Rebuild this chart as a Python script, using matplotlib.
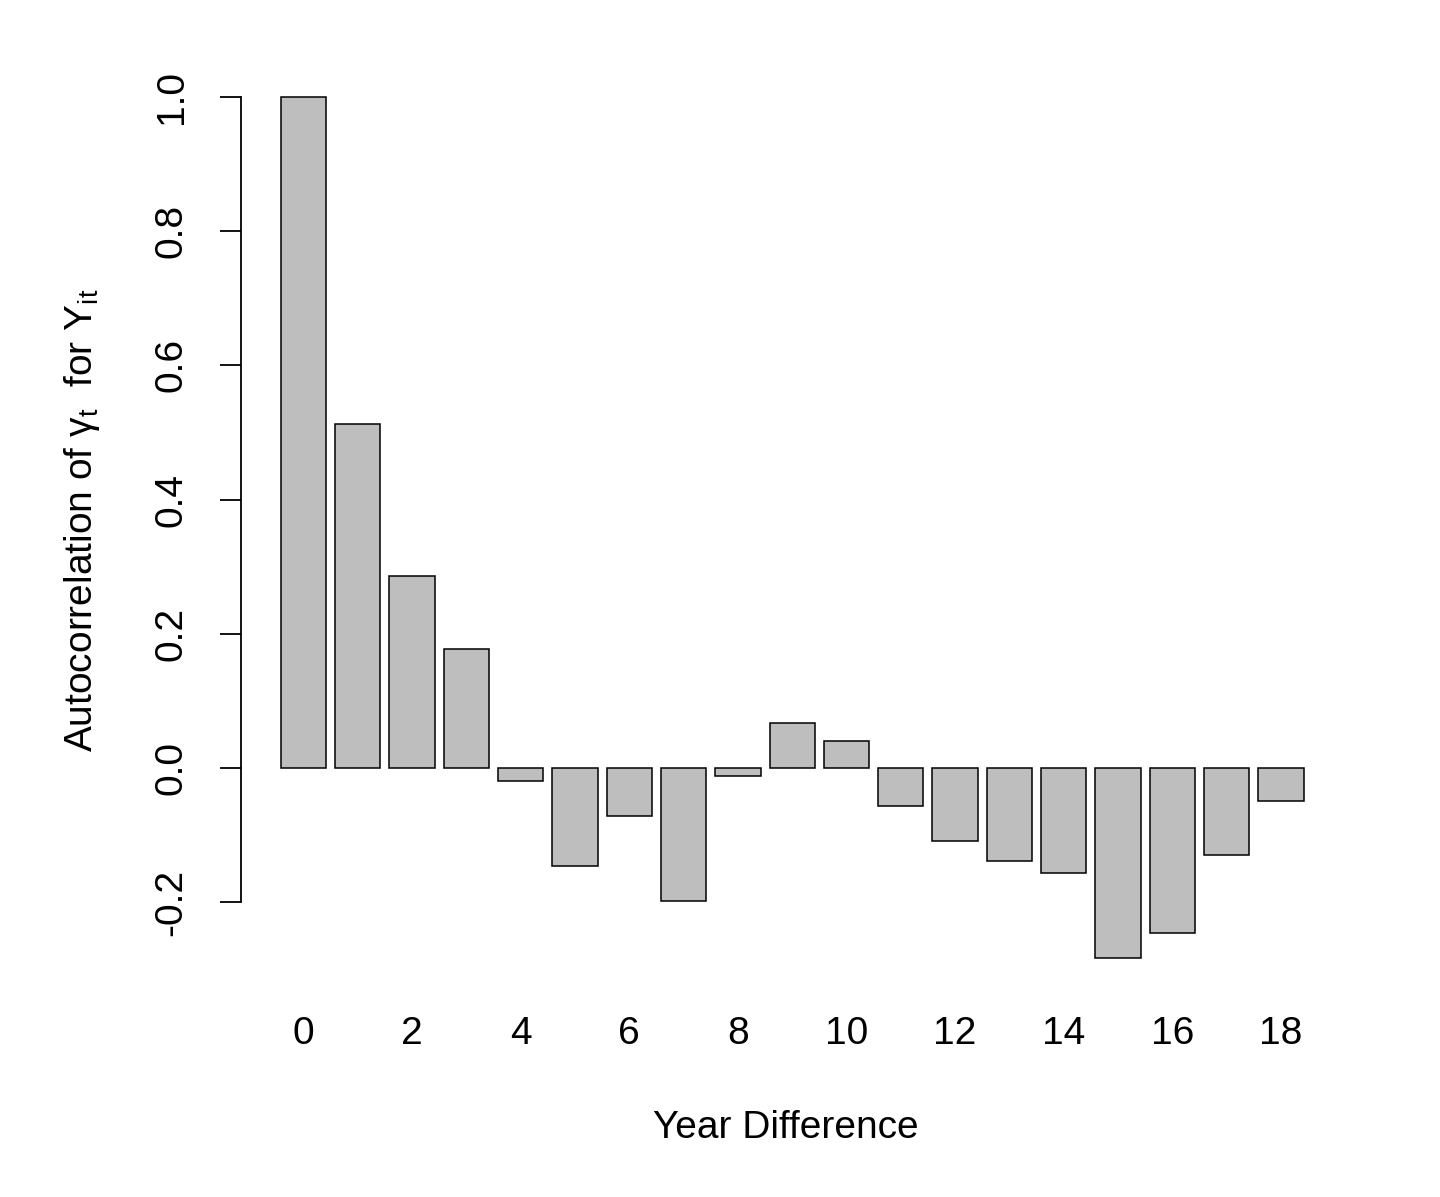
import matplotlib
matplotlib.use("Agg")
import matplotlib.pyplot as plt
import numpy as np

lags = list(range(19))
acf = [1.0, 0.513, 0.286, 0.177, -0.019, -0.146, -0.072, -0.198, -0.012,
       0.067, 0.040, -0.057, -0.109, -0.139, -0.156, -0.283, -0.246, -0.130, -0.049]
xtick_labels = [str(v) for v in range(0, 19, 2)]
yticks = [-0.2, 0.0, 0.2, 0.4, 0.6, 0.8, 1.0]

plt.rcParams['font.family'] = ['Liberation Sans', 'DejaVu Sans']
plt.rcParams['mathtext.fontset'] = 'custom'
plt.rcParams['mathtext.rm'] = 'Liberation Sans'
plt.rcParams['mathtext.it'] = 'Liberation Sans:italic'

W, H = 1440, 1197
fig = plt.figure(figsize=(W/100, H/100), dpi=100)
left, right, top, bottom = 241, 1330, 60, 980
ax = fig.add_axes([left/W, 1-bottom/H, (right-left)/W, (bottom-top)/H])

ax.bar(lags, acf, width=1/1.2, color='#BEBEBE', edgecolor='black', linewidth=1.1)

x0 = 303.5; sp = 54.3
ax.set_xlim((left-x0)/sp, (right-x0)/sp)
ax.set_ylim(-(bottom-768)/671, (768-top)/671)

for s in ['top', 'right', 'bottom']:
    ax.spines[s].set_visible(False)
ax.spines['left'].set_bounds(-0.2, 1.0)
ax.spines['left'].set_linewidth(1.3)

ax.set_yticks(yticks)
ax.set_yticklabels([f"{v:.1f}" for v in yticks], rotation=90, va='center', fontsize=28)
ax.tick_params(axis='y', length=15, width=1.3, pad=22)
ax.set_xticks(list(range(0, 19, 2)))
ax.set_xticklabels(xtick_labels, fontsize=28)
ax.tick_params(axis='x', length=0, pad=26)

ax.set_xlabel('Year Difference', fontsize=28, labelpad=42)
ax.set_ylabel(r'Autocorrelation of $\mathregular{\gamma_t}$  for $\mathregular{Y_{it}}$', fontsize=28, labelpad=37)

fig.savefig('out.png', dpi=100)
